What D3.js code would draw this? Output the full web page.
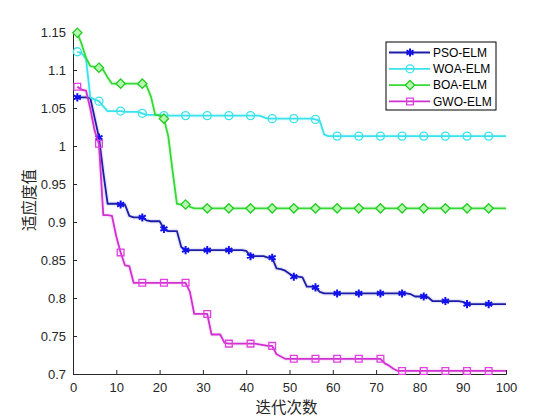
<!DOCTYPE html>
<html>
<head>
<meta charset="utf-8">
<script src="https://cdn.jsdelivr.net/npm/d3@7"></script>
<style>
  body { margin: 0; background: #fff; }
  .tick text { font-family: "Liberation Sans", Arial, sans-serif; font-size: 13px; fill: #262626; }
  .legendText { font-family: "Liberation Sans", Arial, sans-serif; font-size: 12px; fill: #000; }
  .axisText { font-family: "Noto Sans CJK SC", sans-serif; font-size: 15.5px; fill: #262626; }
</style>
</head>
<body>
<div id="chart"></div>
<script>
// chart values, one value per iteration (1..100)
var names = ["PSO-ELM", "WOA-ELM", "BOA-ELM", "GWO-ELM"];

var pso = [1.064, 1.064, 1.064, 1.063, 1.037, 1.011, 0.965, 0.924, 0.924, 0.924,
  0.923, 0.923, 0.908, 0.906, 0.906, 0.906, 0.902, 0.901, 0.901, 0.901,
  0.891, 0.888, 0.888, 0.888, 0.867, 0.863, 0.863, 0.863, 0.863, 0.863,
  0.863, 0.863, 0.863, 0.863, 0.863, 0.863, 0.863, 0.863, 0.863, 0.862,
  0.855, 0.855, 0.855, 0.855, 0.853, 0.853, 0.839, 0.838, 0.836, 0.832,
  0.828, 0.828, 0.827, 0.815, 0.815, 0.814, 0.808, 0.806, 0.806, 0.806,
  0.806, 0.806, 0.806, 0.806, 0.806, 0.806, 0.806, 0.806, 0.806, 0.806,
  0.806, 0.806, 0.806, 0.806, 0.806, 0.806, 0.806, 0.805, 0.802, 0.802,
  0.802, 0.801, 0.796, 0.796, 0.796, 0.796, 0.796, 0.796, 0.796, 0.795,
  0.792, 0.792, 0.792, 0.792, 0.792, 0.792, 0.792, 0.792, 0.792, 0.792];

var woa = [1.124, 1.122, 1.115, 1.064, 1.061, 1.059, 1.052, 1.046, 1.046, 1.046,
  1.046, 1.045, 1.045, 1.045, 1.045, 1.043, 1.041, 1.041, 1.041, 1.041,
  1.040, 1.040, 1.040, 1.040, 1.040, 1.040, 1.040, 1.040, 1.040, 1.040,
  1.040, 1.040, 1.040, 1.040, 1.040, 1.040, 1.040, 1.040, 1.040, 1.040,
  1.040, 1.040, 1.040, 1.038, 1.036, 1.036, 1.036, 1.036, 1.036, 1.036,
  1.036, 1.036, 1.036, 1.036, 1.036, 1.035, 1.033, 1.015, 1.013, 1.013,
  1.013, 1.013, 1.013, 1.013, 1.013, 1.013, 1.013, 1.013, 1.013, 1.013,
  1.013, 1.013, 1.013, 1.013, 1.013, 1.013, 1.013, 1.013, 1.013, 1.013,
  1.013, 1.013, 1.013, 1.013, 1.013, 1.013, 1.013, 1.013, 1.013, 1.013,
  1.013, 1.013, 1.013, 1.013, 1.013, 1.013, 1.013, 1.013, 1.013, 1.013];

var boa = [1.149, 1.134, 1.116, 1.105, 1.104, 1.103, 1.100, 1.090, 1.082, 1.082,
  1.082, 1.082, 1.082, 1.082, 1.082, 1.082, 1.079, 1.065, 1.041, 1.040,
  1.036, 1.013, 0.967, 0.924, 0.923, 0.923, 0.920, 0.918, 0.918, 0.918,
  0.918, 0.918, 0.918, 0.918, 0.918, 0.918, 0.918, 0.918, 0.918, 0.918,
  0.918, 0.918, 0.918, 0.918, 0.918, 0.918, 0.918, 0.918, 0.918, 0.918,
  0.918, 0.918, 0.918, 0.918, 0.918, 0.918, 0.918, 0.918, 0.918, 0.918,
  0.918, 0.918, 0.918, 0.918, 0.918, 0.918, 0.918, 0.918, 0.918, 0.918,
  0.918, 0.918, 0.918, 0.918, 0.918, 0.918, 0.918, 0.918, 0.918, 0.918,
  0.918, 0.918, 0.918, 0.918, 0.918, 0.918, 0.918, 0.918, 0.918, 0.918,
  0.918, 0.918, 0.918, 0.918, 0.918, 0.918, 0.918, 0.918, 0.918, 0.918];

var gwo = [1.078, 1.074, 1.073, 1.049, 1.020, 1.003, 0.909, 0.909, 0.908, 0.881,
  0.860, 0.843, 0.842, 0.820, 0.820, 0.820, 0.820, 0.820, 0.820, 0.820,
  0.820, 0.820, 0.820, 0.820, 0.820, 0.820, 0.808, 0.779, 0.779, 0.779,
  0.779, 0.752, 0.752, 0.752, 0.741, 0.740, 0.740, 0.740, 0.740, 0.740,
  0.740, 0.740, 0.739, 0.738, 0.737, 0.737, 0.726, 0.723, 0.720, 0.720,
  0.720, 0.720, 0.720, 0.720, 0.720, 0.720, 0.720, 0.720, 0.720, 0.720,
  0.720, 0.720, 0.720, 0.720, 0.720, 0.720, 0.720, 0.720, 0.720, 0.720,
  0.720, 0.714, 0.711, 0.707, 0.704, 0.704, 0.704, 0.704, 0.704, 0.704,
  0.704, 0.704, 0.704, 0.704, 0.704, 0.704, 0.704, 0.704, 0.704, 0.704,
  0.704, 0.704, 0.704, 0.704, 0.704, 0.704, 0.704, 0.704, 0.704, 0.704];

var xTicks = [0, 10, 20, 30, 40, 50, 60, 70, 80, 90, 100];
var yTicks = [0.7, 0.75, 0.8, 0.85, 0.9, 0.95, 1, 1.05, 1.1, 1.15];

var svgWidth = 560;
var svgHeight = 420;

var margin = { top: 32, right: 54, bottom: 46, left: 73 };

var width = svgWidth - margin.left - margin.right;
var height = svgHeight - margin.top - margin.bottom;

var svg = d3.select("#chart")
  .append("svg")
  .attr("width", svgWidth)
  .attr("height", svgHeight)
  .style("background", "#fff");

var chartGroup = svg.append("g")
  .attr("transform", `translate(${margin.left}, ${margin.top})`);

var xScale = d3.scaleLinear().domain([0, 100]).range([0, width]);
var yScale = d3.scaleLinear().domain([0.7, 1.15]).range([height, 0]);

// axes, ticks pointing inward like matlab
var bottomAxis = d3.axisBottom(xScale).tickValues(xTicks).tickSize(-4).tickPadding(9).tickFormat(d3.format("d"));
var leftAxis = d3.axisLeft(yScale).tickValues(yTicks).tickSize(-4).tickPadding(7).tickFormat(d => d3.format("")(+d.toFixed(2)));

var gx = chartGroup.append("g")
  .attr("transform", `translate(0, ${height})`)
  .call(bottomAxis);
var gy = chartGroup.append("g")
  .call(leftAxis);

[gx, gy].forEach(function(g) {
  g.select(".domain").attr("stroke", "#262626").attr("stroke-width", 1);
  g.selectAll(".tick line").attr("stroke", "#262626");
  g.selectAll(".tick text").attr("font-family", null).attr("font-size", null);
});

// series setup
var series = [
  { name: names[0], values: pso, line: "#1c1ca6", stroke: "#1010f0", fill: "#1010f0", shape: d3.symbolAsterisk, size: 46 },
  { name: names[1], values: woa, line: "#3ae2ea", stroke: "#3ae2ea", fill: "none", shape: d3.symbolCircle, size: 50 },
  { name: names[2], values: boa, line: "#34d934", stroke: "#22cc22", fill: "#b8f7b0", shape: d3.symbolDiamond2, size: 55 },
  { name: names[3], values: gwo, line: "#d030d0", stroke: "#e040e0", fill: "none", shape: d3.symbolSquare2, size: 58 }
];

var line = d3.line()
  .x((d, i) => xScale(i + 1))
  .y(d => yScale(d));

series.forEach(function(s) {
  // soft halo seen around the curves
  chartGroup.append("path")
    .datum(s.values)
    .attr("d", line)
    .attr("fill", "none")
    .attr("stroke", s.line)
    .attr("stroke-opacity", 0.1)
    .attr("stroke-width", 4.5)
    .attr("stroke-linejoin", "round");

  chartGroup.append("path")
    .datum(s.values)
    .attr("d", line)
    .attr("fill", "none")
    .attr("stroke", s.line)
    .attr("stroke-width", 1.8)
    .attr("stroke-linejoin", "round");

  var marks = s.values.map((v, i) => ({ it: i + 1, v: v })).filter(d => (d.it - 1) % 5 === 0);

  chartGroup.selectAll(null)
    .data(marks)
    .enter()
    .append("path")
    .attr("d", d3.symbol().type(s.shape).size(s.size))
    .attr("transform", d => `translate(${xScale(d.it)}, ${yScale(d.v)})`)
    .attr("fill", s.fill)
    .attr("stroke", s.stroke)
    .attr("stroke-width", s.shape === d3.symbolAsterisk ? 2 : 1.3);
});

// legend
var legend = svg.append("g").attr("transform", "translate(386, 42)");

legend.append("rect")
  .attr("width", 110)
  .attr("height", 68)
  .attr("fill", "#fff")
  .attr("stroke", "#000")
  .attr("stroke-width", 1);

series.forEach(function(s, i) {
  var yy = 10.5 + i * 16.3;
  legend.append("line")
    .attr("x1", 3).attr("x2", 44)
    .attr("y1", yy).attr("y2", yy)
    .attr("stroke", s.line)
    .attr("stroke-width", 1.8);
  legend.append("path")
    .attr("d", d3.symbol().type(s.shape).size(s.size))
    .attr("transform", `translate(24, ${yy})`)
    .attr("fill", s.fill)
    .attr("stroke", s.stroke)
    .attr("stroke-width", s.shape === d3.symbolAsterisk ? 2 : 1.3);
  legend.append("text")
    .attr("class", "legendText")
    .attr("x", 47)
    .attr("y", yy)
    .attr("dy", "0.36em")
    .text(s.name);
});

// axis labels
chartGroup.append("text")
  .attr("class", "axisText")
  .attr("text-anchor", "middle")
  .attr("x", width / 2 - 3)
  .attr("y", height + 39)
  .text("迭代次数");

chartGroup.append("text")
  .attr("class", "axisText")
  .attr("text-anchor", "middle")
  .attr("transform", `translate(-38, ${height / 2 - 3}) rotate(-90)`)
  .text("适应度值");
</script>
</body>
</html>
